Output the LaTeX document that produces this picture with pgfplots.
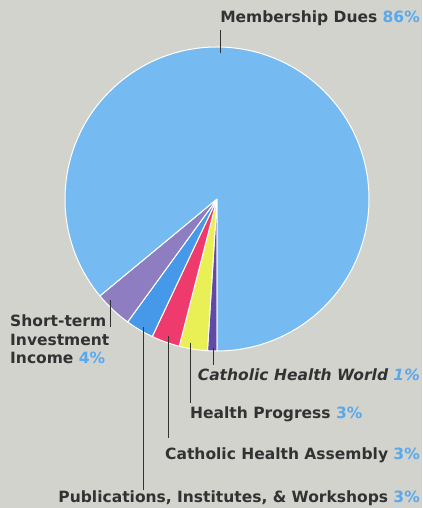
\documentclass[border=0pt]{standalone}
\usepackage{pgfplots}
\usepackage{pgfplotstable}
\pgfplotsset{compat=1.18}
\usepackage{fontspec}
\setmainfont{DejaVu Sans}
\definecolor{bg}{RGB}{211,211,206}
\definecolor{txt}{RGB}{50,50,50}
\definecolor{pct}{RGB}{88,168,236}
\definecolor{slcol0}{RGB}{95,75,165}
\definecolor{slcol1}{RGB}{232,240,85}
\definecolor{slcol2}{RGB}{238,58,108}
\definecolor{slcol3}{RGB}{70,152,232}
\definecolor{slcol4}{RGB}{142,125,192}
\definecolor{slcol5}{RGB}{118,186,242}
\pgfplotstableread{
idx value
0 1
1 3
2 3
3 3
4 4
5 86
}\piedata
\begin{document}
\begin{tikzpicture}
% cumulative angles, clockwise from the bottom
\gdef\cumang{270}
\pgfplotsforeachungrouped \i in {0,...,5}{%
  \pgfplotstablegetelem{\i}{value}\of\piedata
  \pgfmathsetmacro\endang{\cumang-3.6*\pgfplotsretval}%
  \expandafter\xdef\csname angs\i\endcsname{\cumang}%
  \expandafter\xdef\csname ange\i\endcsname{\endang}%
  \xdef\cumang{\endang}%
}
\begin{axis}[x=1bp,y=1bp,xmin=0,xmax=422,ymin=0,ymax=508,
  hide axis,clip=false,scale only axis]
\fill[bg] (axis cs:0,0) rectangle (axis cs:422,508);
\pgfplotsinvokeforeach{0,...,5}{
  \fill[slcol#1,draw=white,line width=1bp,line join=round]
    (axis cs:217,309) -- ++(\csname angs#1\endcsname:152bp)
    arc[start angle=\csname angs#1\endcsname,end angle=\csname ange#1\endcsname,radius=152bp] -- cycle;
}
\begin{scope}[draw=txt,line width=0.9bp]
\draw (axis cs:220,478) -- (axis cs:220,455);
\draw (axis cs:110,208) -- (axis cs:110,181);
\draw (axis cs:143,181) -- (axis cs:143,18);
\draw (axis cs:168,172) -- (axis cs:168,70);
\draw (axis cs:190,165) -- (axis cs:190,105);
\draw (axis cs:213,160) -- (axis cs:213,143);
\end{scope}
\begin{scope}[every node/.style={inner sep=0pt,text=txt,font=\fontsize{15.5bp}{18bp}\selectfont\bfseries}]
\node[anchor=base east] at (axis cs:420,485) {Membership Dues \textcolor{pct}{86\%}};
\node[anchor=base west] at (axis cs:10,181) {Short-term};
\node[anchor=base west] at (axis cs:10,162) {Investment};
\node[anchor=base west] at (axis cs:10,144) {Income \textcolor{pct}{4\%}};
\node[anchor=base east] at (axis cs:420,127) {\itshape Catholic Health World \textcolor{pct}{1\%}};
\node[anchor=base west] at (axis cs:190,89) {Health Progress \textcolor{pct}{3\%}};
\node[anchor=base east] at (axis cs:420,48) {Catholic Health Assembly \textcolor{pct}{3\%}};
\node[anchor=base east] at (axis cs:420,5) {Publications, Institutes, \& Workshops \textcolor{pct}{3\%}};
\end{scope}
\end{axis}
\end{tikzpicture}
\end{document}
